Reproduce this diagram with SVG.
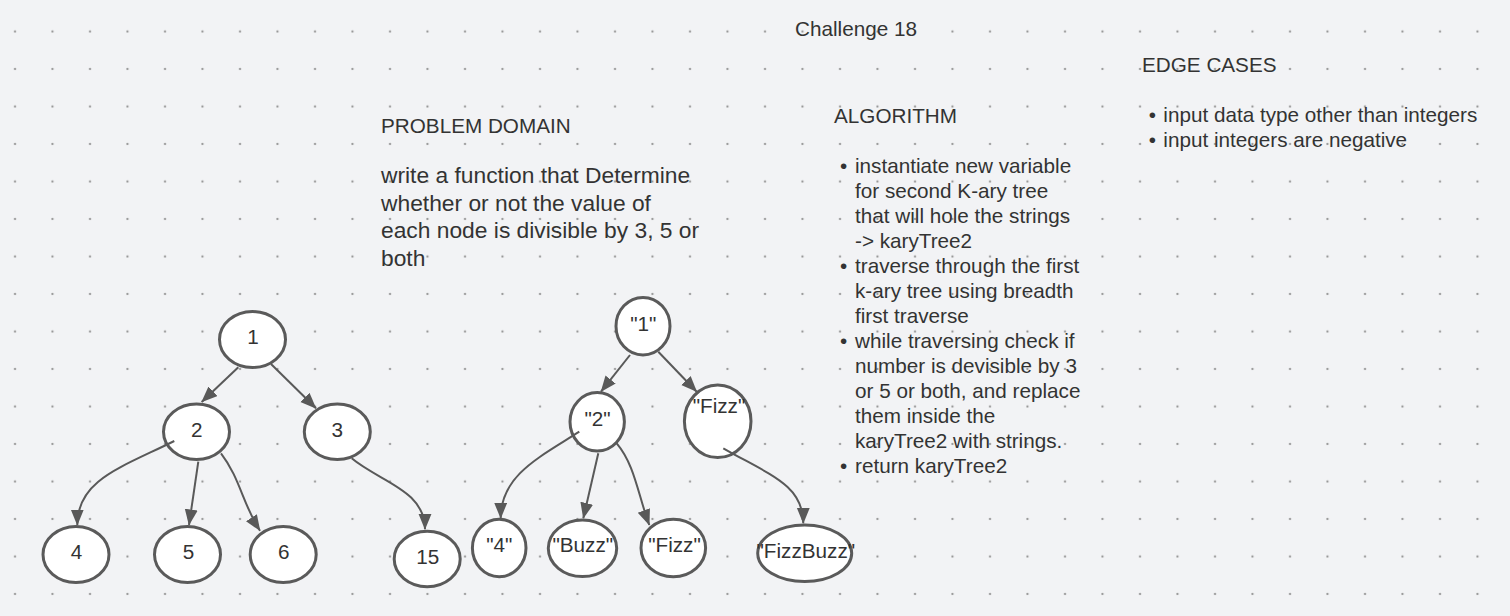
<svg xmlns="http://www.w3.org/2000/svg" width="1510" height="616" viewBox="0 0 1510 616">
<style>
text{font-family:"Liberation Sans",Arial,sans-serif;fill:#333333}
.t{font-size:20.7px}
.b{font-size:22.8px}
.lbl{font-size:20.7px;text-anchor:middle}
.node ellipse{fill:#ffffff;stroke:#5a5a5a;stroke-width:3}
.edge{fill:none;stroke:#595959;stroke-width:2;marker-end:url(#ah)}
.bul{text-anchor:middle;font-size:20.7px}
</style>
<defs>
<pattern id="dots" x="0" y="0" width="37.5" height="37.5" patternUnits="userSpaceOnUse">
<circle cx="15" cy="31.5" r="1.1" fill="#8e8e8e"/>
</pattern>
<marker id="ah" markerUnits="userSpaceOnUse" markerWidth="17" markerHeight="14" refX="15.5" refY="6.5" orient="auto">
<path d="M0,0 L16,6.5 L0,13 z" fill="#595959"/>
</marker>
</defs>
<rect width="1510" height="616" fill="#f2f3f5"/>
<rect width="1510" height="616" fill="url(#dots)"/>

<g id="texts">
<text class="t" x="856" y="36" text-anchor="middle">Challenge 18</text>
<text class="t" x="381" y="133.3">PROBLEM DOMAIN</text>
<text class="b" x="381" y="183.3">write a function that Determine</text>
<text class="b" x="381" y="210.8">whether or not the value of</text>
<text class="b" x="381" y="238.3">each node is divisible by 3, 5 or</text>
<text class="b" x="381" y="265.8">both</text>

<text class="t" x="834" y="123.3">ALGORITHM</text>
<text class="bul" x="843.5" y="173.3">•</text>
<text class="t" x="855" y="173.3">instantiate new variable</text>
<text class="t" x="855" y="198.3">for second K-ary tree</text>
<text class="t" x="855" y="223.3">that will hole the strings</text>
<text class="t" x="855" y="248.3">-&gt; karyTree2</text>
<text class="bul" x="843.5" y="273.3">•</text>
<text class="t" x="855" y="273.3">traverse through the first</text>
<text class="t" x="855" y="298.3">k-ary tree using breadth</text>
<text class="t" x="855" y="323.3">first traverse</text>
<text class="bul" x="843.5" y="348.3">•</text>
<text class="t" x="855" y="348.3">while traversing check if</text>
<text class="t" x="855" y="373.3">number is devisible by 3</text>
<text class="t" x="855" y="398.3">or 5 or both, and replace</text>
<text class="t" x="855" y="423.3">them inside the</text>
<text class="t" x="855" y="448.3">karyTree2 with strings.</text>
<text class="bul" x="843.5" y="473.3">•</text>
<text class="t" x="855" y="473.3">return karyTree2</text>

<text class="t" x="1142" y="72.3">EDGE CASES</text>
<text class="bul" x="1152.3" y="121.7">•</text>
<text class="t" x="1163.3" y="121.7">input data type other than integers</text>
<text class="bul" x="1152.3" y="146.7">•</text>
<text class="t" x="1163.3" y="146.7">input integers are negative</text>
</g>

<g id="n1" class="node"><ellipse cx="252.5" cy="339.5" rx="33" ry="28"/><text class="lbl" x="253" y="344.2">1</text></g>
<g id="n2" class="node"><ellipse cx="196.5" cy="431.7" rx="33" ry="27.7"/><text class="lbl" x="196.7" y="436.6">2</text></g>
<g id="n3" class="node"><ellipse cx="337.3" cy="431.7" rx="33" ry="27.7"/><text class="lbl" x="337.3" y="436.6">3</text></g>
<g id="n4" class="node"><ellipse cx="76" cy="554.5" rx="33" ry="28"/><text class="lbl" x="76.5" y="559">4</text></g>
<g id="n5" class="node"><ellipse cx="187.5" cy="554.5" rx="33" ry="28"/><text class="lbl" x="188.5" y="559">5</text></g>
<g id="n6" class="node"><ellipse cx="283.2" cy="554.5" rx="33" ry="28"/><text class="lbl" x="283.7" y="559">6</text></g>
<g id="n15" class="node"><ellipse cx="427.2" cy="559" rx="33" ry="27.7"/><text class="lbl" x="427.7" y="563.8">15</text></g>

<g id="s1" class="node"><ellipse cx="643" cy="326.2" rx="27" ry="28.8"/><text class="lbl" x="643.3" y="331">"1"</text></g>
<g id="s2" class="node"><ellipse cx="597.2" cy="421.8" rx="27.2" ry="29.2"/><text class="lbl" x="597.5" y="426.3">"2"</text></g>
<g id="sfizz1" class="node"><ellipse cx="717.7" cy="421.3" rx="33.3" ry="36.3"/><text class="lbl" x="719" y="413.3">"Fizz"</text></g>
<g id="s4" class="node"><ellipse cx="499.2" cy="548" rx="26.8" ry="28.7"/><text class="lbl" x="499.3" y="551.7">"4"</text></g>
<g id="sbuzz" class="node"><ellipse cx="582.5" cy="548.3" rx="34.2" ry="28.3"/><text class="lbl" x="582.8" y="551.7">"Buzz"</text></g>
<g id="sfizz2" class="node"><ellipse cx="673.3" cy="548" rx="32.3" ry="28.7"/><text class="lbl" x="674.5" y="551.7">"Fizz"</text></g>
<g id="sfizzbuzz" class="node"><ellipse cx="804.7" cy="553.3" rx="47" ry="28.3"/><text class="lbl" x="805.8" y="558.3">"FizzBuzz"</text></g>

<g id="connectors">
<path class="edge" d="M238.3,367.3 L201.7,402"/>
<path class="edge" d="M271,364 L316,408.3"/>
<path class="edge" d="M174.3,441 C120,468 77.3,480 77.3,525"/>
<path class="edge" d="M198.3,461.7 L189,525"/>
<path class="edge" d="M221,453.3 C240,478 243,505 260,530.7"/>
<path class="edge" d="M351.7,458.3 C380,482 425,490 425,529.3"/>

<path class="edge" d="M630,355 L601,391.7"/>
<path class="edge" d="M658.3,351.7 L696.7,391.7"/>
<path class="edge" d="M579.3,431.7 C540,457 500.7,475 500.7,518.3"/>
<path class="edge" d="M598.3,453.3 L583.3,518.3"/>
<path class="edge" d="M616.7,443.3 C635,465 638,495 649.3,525"/>
<path class="edge" d="M723.3,448.3 C770,475 803.3,485 803.3,523.3"/>
</g>
</svg>
